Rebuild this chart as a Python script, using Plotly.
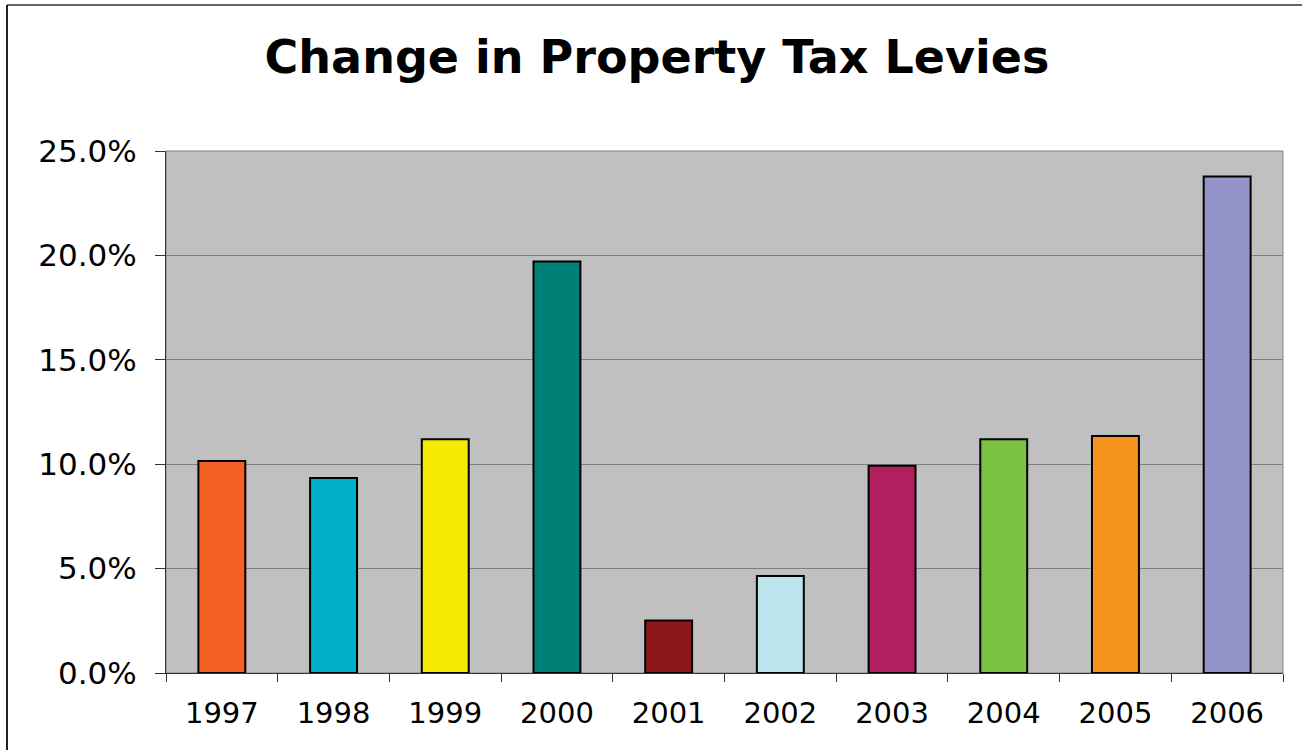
import plotly.graph_objects as go

# Data
years = ["1997", "1998", "1999", "2000", "2001", "2002", "2003", "2004", "2005", "2006"]
levy_change = [0.1015, 0.0934, 0.1120, 0.1971, 0.0252, 0.0465, 0.0992, 0.1120, 0.1135, 0.2378]
bar_colors = ["#F26122", "#00B0CA", "#F5EB00", "#008077", "#8B171A",
              "#BDE3EC", "#B11F5E", "#7AC142", "#F7941E", "#9494C8"]

W, H = 1302, 750
ML, MR, MT, MB = 166, 19, 151, 77
PW, PH = W - ML - MR, H - MT - MB


def px_x(x):
    return (x - ML) / PW


def px_y(y):
    return (H - MB - y) / PH


fig = go.Figure(
    go.Bar(
        x=years,
        y=levy_change,
        marker=dict(color=bar_colors, line=dict(color="#000000", width=2)),
        width=0.42,
    )
)

fig.update_layout(
    width=W,
    height=H,
    margin=dict(l=ML, r=MR, t=MT, b=MB, pad=0),
    paper_bgcolor="#FFFFFF",
    plot_bgcolor="#C0C0C0",
    showlegend=False,
    title=dict(
        text="<b>Change in Property Tax Levies</b>",
        font=dict(family="DejaVu Sans", size=46, color="#000000"),
        x=657 / W,
        xanchor="center",
        xref="container",
        y=1 - 57 / H,
        yanchor="middle",
        yref="container",
    ),
    xaxis=dict(
        type="category",
        tickson="boundaries",
        ticks="outside",
        ticklen=8,
        tickwidth=1,
        tickcolor="#333333",
        showline=True,
        linecolor="#333333",
        linewidth=1,
        showgrid=False,
        tickfont=dict(family="DejaVu Sans", size=29, color="#000000"),
        ticklabelstandoff=14,
    ),
    yaxis=dict(
        range=[0, 0.25],
        dtick=0.05,
        tickformat=".1%",
        ticks="outside",
        ticklen=10,
        tickwidth=1,
        tickcolor="#333333",
        showline=True,
        linecolor="#333333",
        linewidth=1,
        showgrid=True,
        gridcolor="#808080",
        gridwidth=1,
        zeroline=False,
        tickfont=dict(family="DejaVu Sans", size=31, color="#000000"),
        ticklabelstandoff=12,
    ),
    shapes=[
        # plot area frame
        dict(type="rect", xref="paper", yref="paper", x0=0, x1=1, y0=0, y1=1,
             line=dict(color="#808080", width=1), layer="below"),
        # chart outer border (top and left edges)
        dict(type="line", xref="paper", yref="paper",
             x0=px_x(7), x1=px_x(W + 5), y0=px_y(5), y1=px_y(5),
             line=dict(color="#666666", width=2)),
        dict(type="line", xref="paper", yref="paper",
             x0=px_x(7), x1=px_x(7), y0=px_y(5), y1=px_y(H + 5),
             line=dict(color="#222222", width=2)),
    ],
)

fig.write_html("out.html")
